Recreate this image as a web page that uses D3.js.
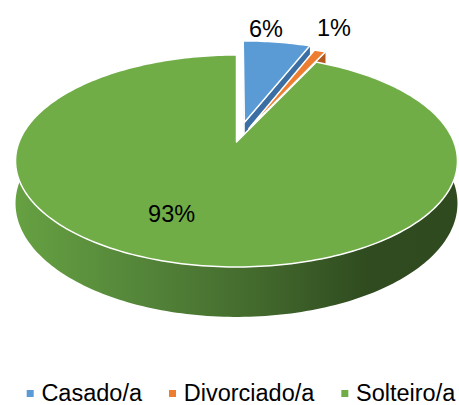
<!DOCTYPE html>
<html><head><meta charset="utf-8">
<script src="https://cdn.jsdelivr.net/npm/d3@7/dist/d3.min.js"></script>
<style>html,body{margin:0;padding:0;background:#fff;}svg{display:block;}</style>
</head><body>
<svg id="chart" width="459" height="405"></svg>
<script>
// ---- data ----
const categories = ["Casado/a", "Divorciado/a", "Solteiro/a"];
const values = [6, 1, 93];
const valueLabels = ["6%", "1%", "93%"];

// ---- style / layout ----
const topColors = ["#5B9BD5", "#ED7D31", "#70AD47"];
const faceColors = ["#3b6ea3", "#b3591d", "#4a7330"];
const explode = [0.2, 0.15, 0];
const CX = 236.5, CY = 142, A = 217.4, B = 102.6, P = 0.179, H = 41;
const FONT = "'Liberation Sans', Arial, sans-serif";

const svg = d3.select("#chart");
const defs = svg.append("defs");
const grad = defs.append("linearGradient").attr("id", "sideG")
  .attr("gradientUnits", "userSpaceOnUse").attr("x1", 14).attr("x2", 457).attr("y1", 0).attr("y2", 0);
[[0, "#66a142"], [0.3, "#538439"], [0.55, "#43692d"], [0.8, "#2f4b1f"], [1, "#2f4a1f"]]
  .forEach(([o, c]) => grad.append("stop").attr("offset", o).attr("stop-color", c));

function proj(X, Z, down) {
  const w = 1 + P * Z;
  return [CX + A * X / w, CY - B * Z / w + (down ? H / w : 0)];
}
function pt(t, r, off, down) {
  return proj(off[0] + r * Math.sin(t), off[1] + r * Math.cos(t), down);
}
function arcPts(a0, a1, off, down) {
  const n = Math.max(4, Math.ceil((a1 - a0) / 0.02));
  return d3.range(n + 1).map(i => pt(a0 + (a1 - a0) * i / n, 1, off, down));
}
const line = d3.line().curve(d3.curveLinear);

const arcs = d3.pie().sort(null).value(d => d)(values);

arcs.forEach((a, i) => {
  const mid = (a.startAngle + a.endAngle) / 2;
  const off = [explode[i] * Math.sin(mid), explode[i] * Math.cos(mid)];
  const g = svg.append("g");
  // radial faces
  [a.startAngle, a.endAngle].forEach(t => {
    const face = [pt(t, 0, off, false), pt(t, 1, off, false), pt(t, 1, off, true), pt(t, 0, off, true)];
    g.append("path").attr("d", line(face) + "Z").attr("fill", faceColors[i])
      .attr("stroke", "#fff").attr("stroke-width", 0.8);
  });
  // outer side
  const side = arcPts(a.startAngle, a.endAngle, off, false)
    .concat(arcPts(a.startAngle, a.endAngle, off, true).reverse());
  g.append("path").attr("d", line(side) + "Z")
    .attr("fill", i === 2 ? "url(#sideG)" : faceColors[i]);
  // top face
  const top = [pt(0, 0, off, false)].concat(arcPts(a.startAngle, a.endAngle, off, false));
  g.append("path").attr("d", line(top) + "Z").attr("fill", topColors[i])
    .attr("stroke", "#fff").attr("stroke-width", 1.5).attr("stroke-linejoin", "round");
});

// data labels
const labelR = [1, 1, 0.55];
const labelNudge = [[-11, -5], [14, -15], [-36, 19]];
arcs.forEach((a, i) => {
  const mid = (a.startAngle + a.endAngle) / 2;
  const e = explode[i];
  const p = proj((e + labelR[i]) * Math.sin(mid), (e + labelR[i]) * Math.cos(mid), false);
  svg.append("text").attr("x", p[0] + labelNudge[i][0]).attr("y", p[1] + labelNudge[i][1])
    .attr("text-anchor", "middle").attr("font-family", FONT).attr("font-size", "23.5px")
    .attr("fill", "#000").text(valueLabels[i]);
});

// legend
const leg = svg.append("g");
let x = 0;
categories.forEach((c, i) => {
  const it = leg.append("g");
  it.append("rect").attr("x", 0).attr("y", -11).attr("width", 7).attr("height", 7).attr("fill", topColors[i]);
  const t = it.append("text").attr("x", 14.7).attr("y", 0).attr("font-family", FONT)
    .attr("font-size", "23.5px").attr("fill", "#000").text(c);
  const w = 14.7 + t.node().getComputedTextLength();
  it.attr("transform", `translate(${x},0)`);
  x += w + 27;
});
const totalW = x - 27;
leg.attr("transform", `translate(${241 - totalW / 2},401)`);
</script>
</body></html>
